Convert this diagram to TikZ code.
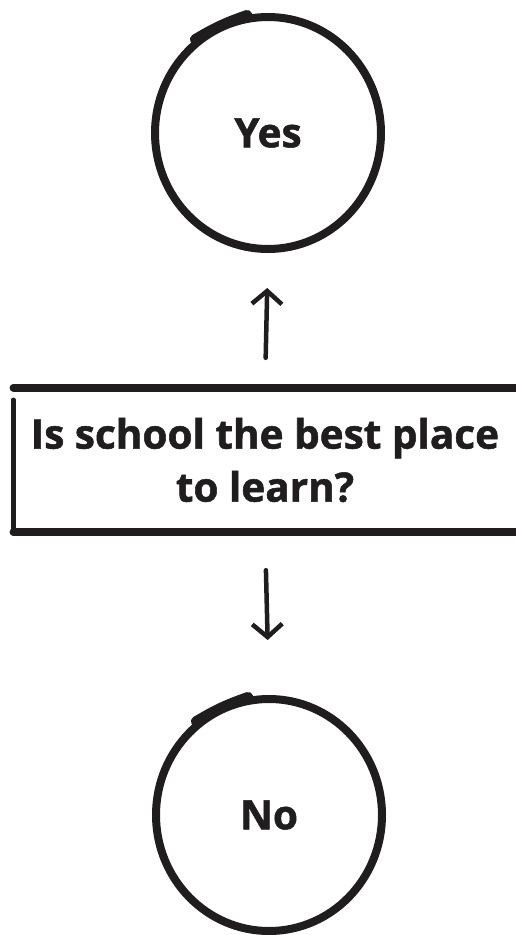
\documentclass[tikz,border=0pt]{standalone}
\usepackage{fontspec}
\setmainfont{Open Sans}[BoldFeatures={FakeBold=1.3}]
\usepackage{tikz}
\usetikzlibrary{shapes.geometric, arrows.meta, positioning}
\definecolor{ink}{HTML}{1F1D1E}
\tikzstyle{arrow}    = [ink, line width=4.5pt, line cap=round, -{Straight Barb[length=13pt, width=30pt, line width=4.5pt]}]
\tikzstyle{bubble}   = [ellipse, draw=ink, line width=8pt, minimum width=226pt, minimum height=232pt]
\tikzstyle{question} = [rectangle, minimum width=503pt, minimum height=144pt, inner sep=0pt]
\tikzstyle{rim}      = [ink, line width=7.5pt, line cap=round]
\tikzset{every node/.style={align=center, text=ink, font=\bfseries\fontsize{40.5}{53}\selectfont}}

\begin{document}
\begin{tikzpicture}[x=1pt, y=-1pt]
    \useasboundingbox (0,0) rectangle (515,935);

    \node (yes) at (268, 133) [bubble] {Yes};
    \node (ask) at (265, 460) [question] {Is school the best place\\to learn?};
    \node (no)  at (269, 815) [bubble] {No};

    % open box: top, left and bottom only
    \draw [rim] (ask.north west) -- ([xshift=10pt]ask.north east);
    \draw [rim] (ask.south west) -- ([xshift=10pt]ask.south east);
    \draw [rim, line width=4.5pt] ([yshift=-12pt]ask.north west) -- (ask.south west);

    % pen overlap on the circles
    \draw [rim, line width=10pt] (yes.128) to[bend left=6] (yes.100);
    \draw [rim, line width=10pt] (no.128)  to[bend left=6] (no.100);

    \draw [arrow, shorten <=30pt, shorten >=35pt] (ask.north) -- (yes.south);
    \draw [arrow, shorten <=38pt, shorten >=55pt] (ask.south) -- (no.north);
\end{tikzpicture}
\end{document}
